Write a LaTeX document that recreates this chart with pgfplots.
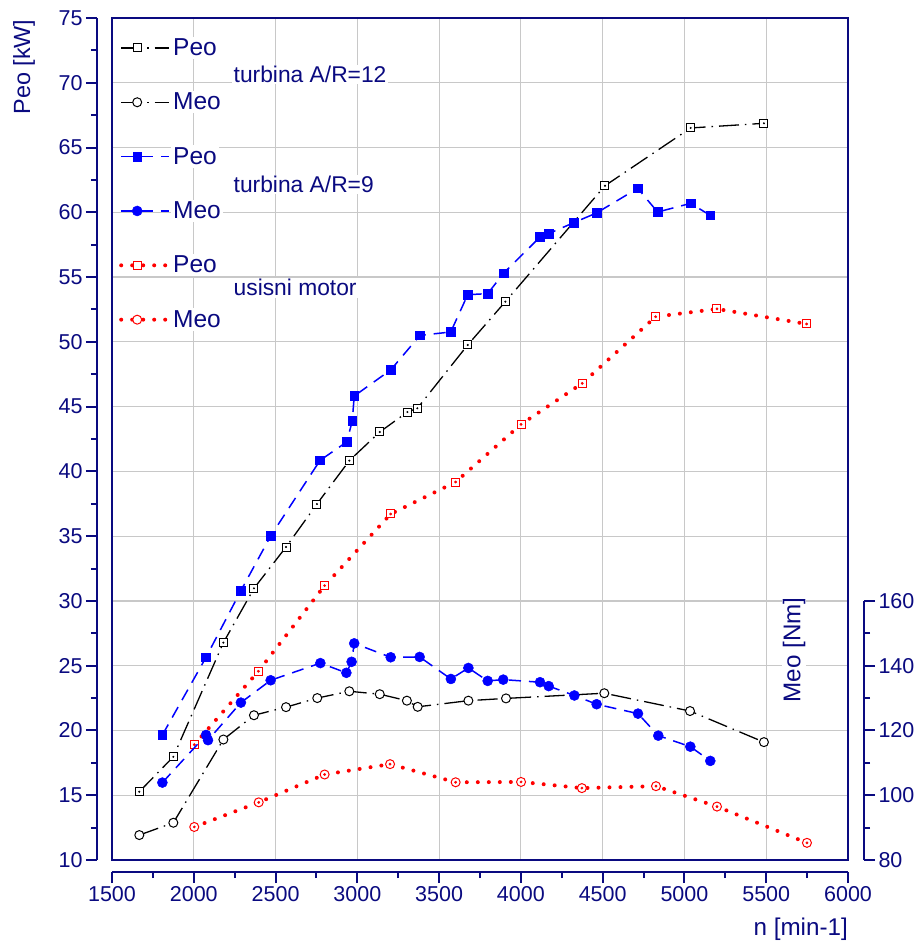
\documentclass[border=0pt]{standalone}
\usepackage{fontspec}
\setmainfont{Liberation Sans}
\usepackage{pgfplots}
\usepackage{pgfplotstable}
\pgfplotsset{compat=1.18}
\definecolor{navy}{RGB}{10,10,128}
\definecolor{gridgray}{RGB}{200,200,200}
\newcommand{\fs}[1]{\fontsize{#1}{#1}\selectfont}

\pgfplotstableread{
x y
1667 15.27
1875 17.97
2181 26.78
2368 30.97
2564 34.16
2753 37.48
2951 40.83
3137 43.04
3306 44.58
3367 44.87
3675 49.76
3905 53.10
4514 62.05
5038 66.51
5486 66.87
}\blackPeo

\pgfplotstableread{
x y
1667 87.7
1875 91.5
2181 117.2
2368 124.7
2564 127.2
2755 130.0
2951 132.1
3137 131.2
3303 129.2
3369 127.3
3679 129.2
3909 129.9
4510 131.5
5034 126.0
5486 116.4
}\blackMeo

\pgfplotstableread{
x y
1808 19.65
2075 25.65
2288 30.79
2470 35.01
2772 40.85
2935 42.27
2969 43.89
2981 45.82
3204 47.83
3383 50.50
3571 50.76
3675 53.64
3797 53.72
3895 55.31
4117 58.09
4170 58.35
4323 59.20
4463 59.95
4714 61.85
4836 60.02
5038 60.69
5158 59.76
}\bluePeo

\pgfplotstableread{
x y
1808 103.9
2075 118.6
2087 117.0
2288 128.6
2470 135.5
2774 140.8
2933 137.8
2965 141.2
2981 146.9
3204 142.6
3381 142.7
3572 135.9
3679 139.3
3797 135.3
3892 135.7
4117 134.9
4170 133.7
4327 130.8
4463 128.1
4716 125.2
4840 118.4
5036 115.0
5158 110.6
}\blueMeo

\pgfplotstableread{
x y
2003 18.90
2395 24.57
2800 31.18
3204 36.71
3601 39.18
4001 43.63
4375 46.80
4824 51.94
5199 52.54
5747 51.38
}\redPeo

\pgfplotstableread{
x y
2003 90.2
2397 97.8
2800 106.4
3200 109.6
3601 104.0
4001 104.1
4373 102.2
4826 102.8
5199 96.5
5749 85.3
}\redMeo

\pgfplotsset{
  common/.style={scale only axis, width=736pt, height=842pt, at={(0,0)}, anchor=south west,
    xmin=1500, xmax=6000, ymin=10, ymax=75},
  blk/.style={black, line width=1.3pt, dash pattern=on 20pt off 6pt on 1.5pt off 6pt},
  blu/.style={blue, line width=1.5pt, dash pattern=on 12pt off 8pt},
  rd/.style={red, line width=4pt, line cap=round, dash pattern=on 0pt off 11pt},
  mblkP/.style={mark=square*, mark size=4pt, mark options={solid, draw=black, fill=white, line width=1pt}},
  mblkM/.style={mark=*, mark size=4.5pt, mark options={solid, draw=black, fill=white, line width=1pt}},
  mbluP/.style={mark=square*, mark size=4.3pt, mark options={solid, blue, line width=0.5pt}},
  mbluM/.style={mark=*, mark size=5pt, mark options={solid, blue, line width=0.5pt}},
  mrdP/.style={mark=square*, mark size=4pt, mark options={solid, draw=red, fill=white, line width=1pt, line cap=butt}},
  mrdM/.style={mark=*, mark size=4.5pt, mark options={solid, draw=red, fill=white, line width=1pt}},
  nums/.style={/pgf/number format/assume math mode=true, /pgf/number format/1000 sep={},
    scaled x ticks=false, scaled y ticks=false},
}

\begin{document}
\begin{tikzpicture}
% frame, grid, Peo
\begin{axis}[common, axis lines=box, axis line style={navy, line width=1.6pt},
  xtick={1500,2000,...,6000}, ytick={10,15,...,75}, grid=major,
  major grid style={gridgray, line width=1.2pt}, major tick length=0pt,
  xticklabels={}, yticklabels={},
  legend image code/.code={\draw[mark repeat=2,mark phase=2] plot coordinates {(0pt,0pt) (16pt,0pt) (48pt,0pt)};},
  legend style={at={(axis description cs:0.0095,0.978)}, anchor=north west, draw=none, fill=none,
    inner sep=0pt, row sep=32pt, font=\fs{24.5}, text=navy, nodes={fill=white}},
  legend cell align=left]
\addplot[blk, mblkP, forget plot] table {\blackPeo};
\addplot[only marks, mark=*, mark size=0.8pt, black, forget plot] table {\blackPeo};
\addplot[blu, mbluP, forget plot] table {\bluePeo};
\addplot[rd, mrdP, forget plot] table {\redPeo};
\addplot[only marks, mark=*, mark size=1.2pt, red, forget plot] table {\redPeo};
\addlegendimage{blk, mblkP}
\addlegendentry{Peo}
\addlegendimage{blk, mblkM}
\addlegendentry{Meo}
\addlegendimage{blu, mbluP}
\addlegendentry{Peo}
\addlegendimage{blu, mbluM}
\addlegendentry{Meo}
\addlegendimage{rd, mrdP}
\addlegendentry{Peo}
\addlegendimage{rd, mrdM}
\addlegendentry{Meo}
\end{axis}
% offset left and bottom axes
\begin{axis}[common, nums, axis x line=bottom, axis y line=left,
  axis x line shift=12pt, axis y line shift=15pt,
  axis line style={navy, line width=2.6pt, -},
  every outer x axis line/.append style={-}, every outer y axis line/.append style={-},
  tick align=outside, major tick length=11pt, minor tick length=6pt,
  every tick/.style={navy, line width=2pt},
  xtick={1500,2000,...,6000}, minor x tick num=1,
  ytick={10,15,...,75}, minor y tick num=1,
  ticklabel style={font=\fs{21.5}, text=navy}]
\end{axis}
% right Meo axis
\begin{axis}[scale only axis, width=736pt, height=259.08pt, at={(0,0)}, anchor=south west,
  xmin=1500, xmax=6000, ymin=80, ymax=160, nums,
  axis x line=none, axis y line=right, axis y line shift=16pt,
  axis line style={navy, line width=2.2pt, -},
  every outer y axis line/.append style={-},
  tick align=outside, major tick length=11pt, minor tick length=6pt,
  every tick/.style={navy, line width=2pt},
  ytick={80,100,...,160}, minor y tick num=1,
  ticklabel style={font=\fs{21.5}, text=navy}]
\addplot[blk, mblkM] table {\blackMeo};
\addplot[blu, mbluM] table {\blueMeo};
\addplot[rd, mrdM] table {\redMeo};
\addplot[only marks, mark=*, mark size=1.2pt, red] table {\redMeo};
\end{axis}
% labels
\node[rotate=90, text=navy, font=\fs{23.4}] at (-88pt,793pt) {Peo [kW]};
\node[rotate=90, text=navy, font=\fs{24.2}, fill=white, inner sep=1pt] at (682pt,210pt) {Meo [Nm]};
\node[anchor=base east, text=navy, font=\fs{24.2}, inner sep=0pt] at (736pt,-75pt) {n [min-1]};
\node[anchor=base west, text=navy, font=\fs{22.8}, fill=white, inner sep=1.5pt] at (120pt,777.3pt) {turbina A/R=12};
\node[anchor=base west, text=navy, font=\fs{22.8}, fill=white, inner sep=1.5pt] at (120pt,667.3pt) {turbina A/R=9};
\node[anchor=base west, text=navy, font=\fs{22.8}, fill=white, inner sep=1.5pt] at (120pt,564pt) {usisni motor};
\pgfresetboundingbox
\useasboundingbox (-112pt,-81pt) rectangle (809pt,860pt);
\end{tikzpicture}
\end{document}
